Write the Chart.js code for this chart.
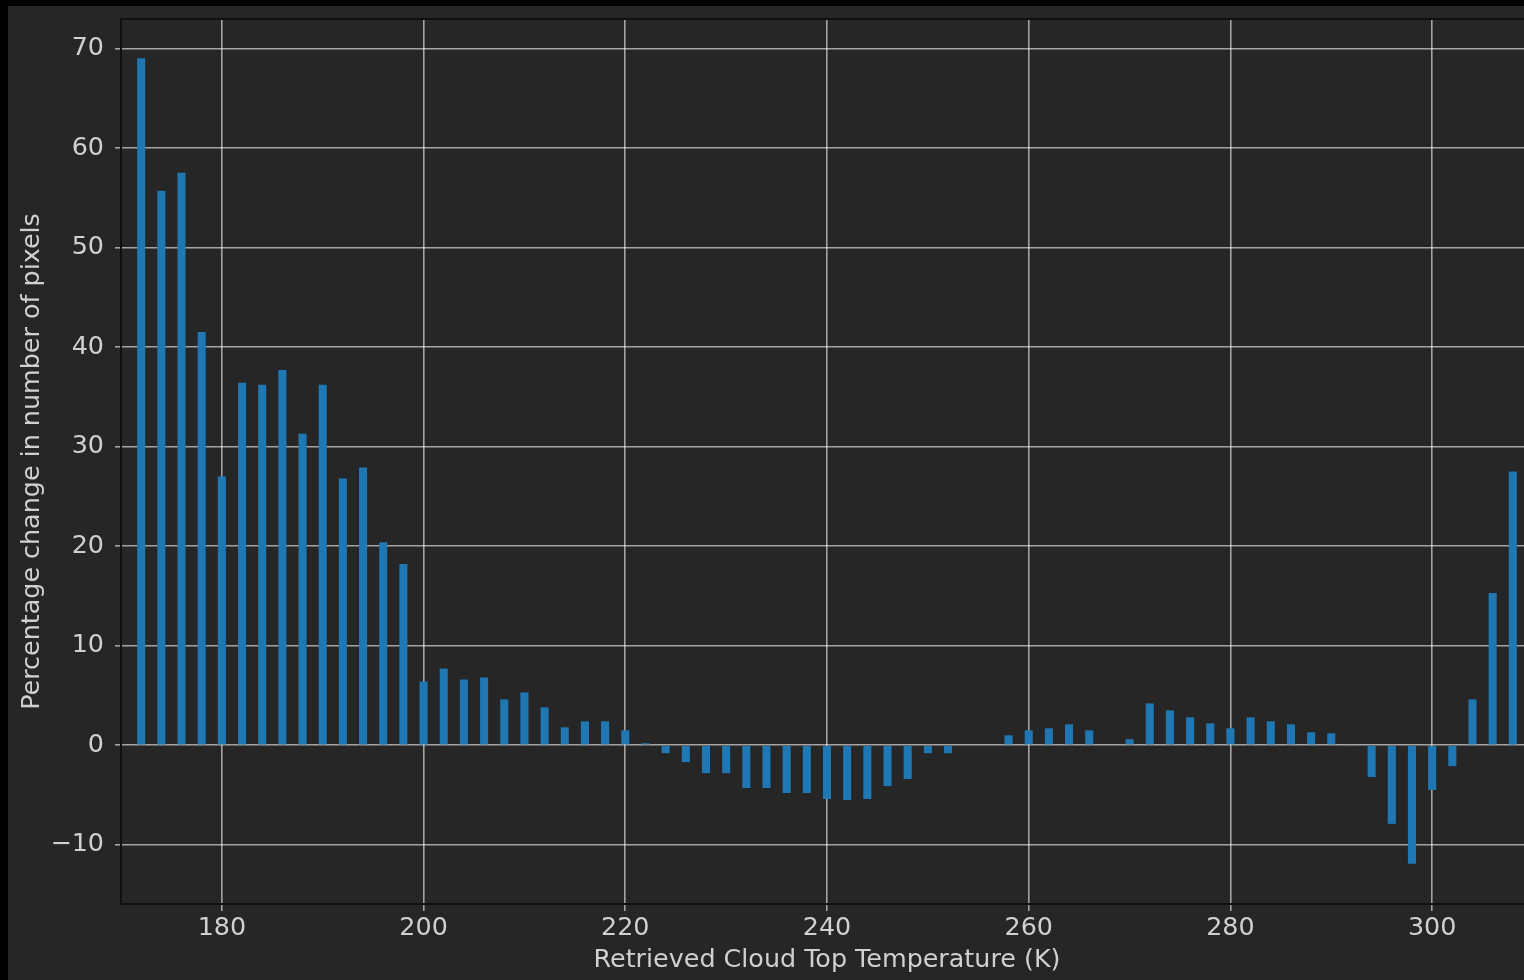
<!DOCTYPE html>
<html>
<head>
<meta charset="utf-8">
<script src="https://cdn.jsdelivr.net/npm/chart.js@4/dist/chart.umd.min.js"></script>
<style>
  html, body { margin: 0; padding: 0; background: #000; overflow: hidden; }
  #wrap { position: absolute; left: 8px; top: 6px; width: 1532px; height: 974px; background: #262626; }
</style>
</head>
<body>
<div id="wrap"><canvas id="myChart" width="1532" height="974"></canvas></div>
<script>
// cloud top temperature bins (K)
const temps = [172, 174, 176, 178, 180, 182, 184, 186, 188, 190,
  192, 194, 196, 198, 200, 202, 204, 206, 208, 210,
  212, 214, 216, 218, 220, 222, 224, 226, 228, 230,
  232, 234, 236, 238, 240, 242, 244, 246, 248, 250,
  252, 254, 256, 258, 260, 262, 264, 266, 268, 270,
  272, 274, 276, 278, 280, 282, 284, 286, 288, 290,
  292, 294, 296, 298, 300, 302, 304, 306, 308];
// percentage change per bin
const pctChange = [69.0, 55.7, 57.5, 41.5, 27.0, 36.4, 36.2, 37.7, 31.3, 36.2,
  26.8, 27.9, 20.4, 18.2, 6.4, 7.7, 6.6, 6.8, 4.6, 5.3,
  3.8, 1.8, 2.4, 2.4, 1.5, 0.2, -0.8, -1.7, -2.8, -2.8,
  -4.3, -4.3, -4.8, -4.8, -5.4, -5.5, -5.4, -4.1, -3.4, -0.8,
  -0.8, 0, 0, 1.0, 1.5, 1.7, 2.1, 1.5, 0, 0.6,
  4.2, 3.5, 2.8, 2.2, 1.7, 2.8, 2.4, 2.1, 1.3, 1.2,
  -0.1, -3.2, -7.9, -11.9, -4.5, -2.1, 4.6, 15.3, 27.5];
const xTicks = [180, 200, 220, 240, 260, 280, 300];
const yTicks = [-10, 0, 10, 20, 30, 40, 50, 60, 70];

const textColor = '#d0d0d0';
const gridColor = 'rgba(255,255,255,0.58)';
const font = { family: 'DejaVu Sans', size: 25.4 };

// dark frame around the plot area
const frame = {
  id: 'frame',
  afterDraw(chart) {
    const { ctx, chartArea: a } = chart;
    ctx.save();
    ctx.strokeStyle = '#101010';
    ctx.lineWidth = 2;
    ctx.strokeRect(a.left, a.top, a.right - a.left, a.bottom - a.top);
    ctx.restore();
  }
};

const ctx = document.getElementById('myChart').getContext('2d');
const myChart = new Chart(ctx, {
  type: 'bar',
  data: {
    datasets: [{
      data: temps.map((t, i) => ({ x: t, y: pctChange[i] })),
      backgroundColor: '#1f77b4',
      barPercentage: 0.4,
      categoryPercentage: 1.0
    }]
  },
  options: {
    responsive: false,
    animation: false,
    layout: { padding: { top: 13, right: 7, left: 0, bottom: 0 } },
    plugins: {
      legend: { display: false },
      tooltip: { enabled: false }
    },
    scales: {
      x: {
        type: 'linear',
        min: 170,
        max: 310,
        offset: false,
        z: 1,
        afterFit(scale) {
          scale.height = 76;
          scale.paddingLeft = 0;
          scale.paddingRight = 0;
        },
        afterBuildTicks(scale) { scale.ticks = xTicks.map(v => ({ value: v })); },
        grid: { color: gridColor, lineWidth: 1.6, tickLength: 7, drawTicks: true, offset: false },
        border: { display: false },
        ticks: { color: textColor, font: font, padding: 2, maxRotation: 0 },
        title: {
          display: true,
          text: 'Retrieved Cloud Top Temperature (K)',
          color: textColor,
          font: font,
          padding: { top: 0, bottom: 4 }
        }
      },
      y: {
        min: -15.95,
        max: 72.95,
        z: 1,
        afterFit(scale) {
          scale.width = 113;
          scale.paddingTop = 0;
          scale.paddingBottom = 0;
        },
        afterBuildTicks(scale) { scale.ticks = yTicks.map(v => ({ value: v })); },
        grid: { color: gridColor, lineWidth: 1.6, tickLength: 6, drawTicks: true },
        border: { display: false },
        ticks: {
          color: textColor,
          font: font,
          padding: 11,
          callback: v => String(v).replace('-', '\u2212')
        },
        title: {
          display: true,
          text: 'Percentage change in number of pixels',
          color: textColor,
          font: font,
          padding: { top: 9, bottom: 0 }
        }
      }
    }
  },
  plugins: [frame]
});
</script>
</body>
</html>
